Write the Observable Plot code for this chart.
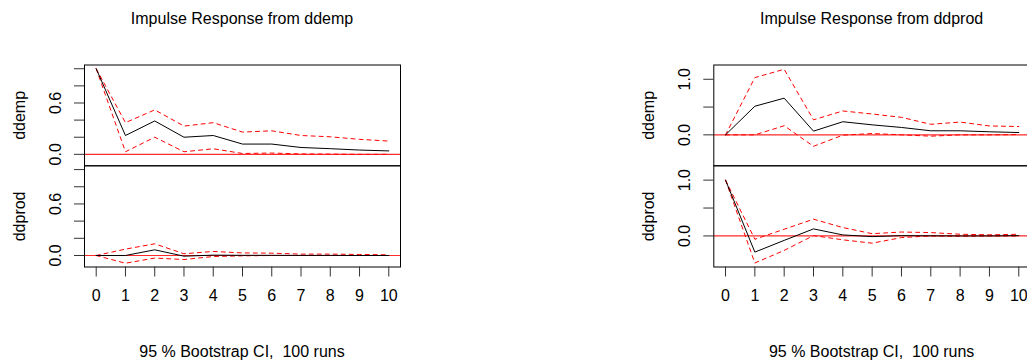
<!DOCTYPE html>
<html>
<head>
<meta charset="utf-8">
<script src="https://cdn.jsdelivr.net/npm/d3@7"></script>
<script src="https://cdn.jsdelivr.net/npm/@observablehq/plot@0.6"></script>
<style>
  html, body { margin: 0; padding: 0; background: #fff; }
  #chart { position: relative; width: 1027px; height: 362px; overflow: hidden; background: #fff;
           font-family: "Liberation Sans", Arial, sans-serif; }
  #chart svg { position: absolute; top: 0; }
  .ttl { position: absolute; width: 300px; text-align: center; font-size: 16px; line-height: 16px;
         font-family: "Liberation Sans", Arial, sans-serif; color: #000; white-space: pre; }
</style>
</head>
<body>
<div id="chart"></div>
<script>
// ---- data ----
const horizons = [0, 1, 2, 3, 4, 5, 6, 7, 8, 9, 10];
const xTickLabels = horizons;

const responseNames = ["ddemp", "ddprod"];
const shockTitles = ["Impulse Response from ddemp", "Impulse Response from ddprod"];
const captionText = "95 % Bootstrap CI,  100 runs";

// shock: ddemp
const irfDdempDdemp   = [1.0, 0.22, 0.39, 0.20, 0.22, 0.12, 0.12, 0.08, 0.066, 0.05, 0.04];
const upperDdempDdemp = [1.0, 0.37, 0.52, 0.33, 0.37, 0.26, 0.275, 0.22, 0.205, 0.175, 0.155];
const lowerDdempDdemp = [1.0, 0.03, 0.20, 0.03, 0.065, 0.01, 0.015, 0.005, 0.003, 0.0, 0.0];
const irfDdempDdprod   = [0.0, 0.0, 0.066, -0.008, 0.004, 0.002, 0.002, 0.001, 0.001, 0.0, 0.0];
const upperDdempDdprod = [0.0, 0.074, 0.136, 0.02, 0.047, 0.03, 0.027, 0.016, 0.016, 0.012, 0.008];
const lowerDdempDdprod = [0.0, -0.09, -0.03, -0.047, -0.012, -0.004, 0.0, 0.0, 0.0, 0.0, 0.0];

// shock: ddprod
const irfDdprodDdemp   = [0.0, 0.515, 0.66, 0.067, 0.236, 0.18, 0.133, 0.073, 0.073, 0.055, 0.042];
const upperDdprodDdemp = [0.0, 1.03, 1.18, 0.27, 0.43, 0.375, 0.315, 0.19, 0.23, 0.16, 0.15];
const lowerDdprodDdemp = [0.0, 0.0, 0.164, -0.206, -0.006, 0.024, 0.0, -0.024, 0.0, 0.0, 0.005];
const irfDdprodDdprod   = [1.0, -0.29, -0.08, 0.126, 0.018, -0.012, 0.005, 0.002, 0.0, 0.0, 0.005];
const upperDdprodDdprod = [1.0, -0.06, 0.12, 0.30, 0.15, 0.04, 0.07, 0.06, 0.03, 0.02, 0.03];
const lowerDdprodDdprod = [1.0, -0.485, -0.26, 0.006, -0.07, -0.13, -0.03, 0.0, -0.006, 0.0, 0.0];

// axis ticks
const leftYTicks = [0, 0.2, 0.4, 0.6, 0.8, 1.0];
const leftYLabels = [0, 0.6];
const rightYTicks = [0, 0.5, 1.0];
const rightYLabels = [0, 1.0];

// ---- layout ----
const chart = document.getElementById("chart");
const FONT = "\"Liberation Sans\", Arial, sans-serif";
const columns = [
  {svgLeft: 0,   width: 402, marginLeft: 84,  marginRight: 2, yDomain: [-0.134, 1.044], yTicks: leftYTicks, yLabels: leftYLabels,
   series: [[irfDdempDdemp, upperDdempDdemp, lowerDdempDdemp], [irfDdempDdprod, upperDdempDdprod, lowerDdempDdprod]]},
  {svgLeft: 620, width: 412, marginLeft: 93.3, marginRight: 2, yDomain: [-0.557, 1.257], yTicks: rightYTicks, yLabels: rightYLabels,
   series: [[irfDdprodDdemp, upperDdprodDdemp, lowerDdprodDdemp], [irfDdprodDdprod, upperDdprodDdprod, lowerDdprodDdprod]]}
];
const rows = [
  {marginTop: 64.5, height: 170, marginBottom: 4.7, showX: false},
  {marginTop: 165.3, height: 362, marginBottom: 95.5, showX: true}
];

columns.forEach((col, ci) => {
  rows.forEach((row, ri) => {
    const [irf, up, lo] = col.series[ri];
    const rowsData = horizons.map((h, i) => ({h, irf: irf[i], up: up[i], lo: lo[i]}));
    const marks = [
      Plot.ruleY([0], {stroke: "#ff2a2a", strokeWidth: 1.2}),
      Plot.lineY(rowsData, {x: "h", y: "up", stroke: "red", strokeDasharray: "4,4", strokeWidth: 1}),
      Plot.lineY(rowsData, {x: "h", y: "lo", stroke: "red", strokeDasharray: "4,4", strokeWidth: 1}),
      Plot.lineY(rowsData, {x: "h", y: "irf", stroke: "black", strokeWidth: 1}),
      Plot.frame({stroke: "black"}),
      Plot.axisY({ticks: col.yTicks, tickSize: 10, tickFormat: () => "", stroke: "#333", label: null}),
      Plot.text(col.yLabels, {y: d => d, text: d => d.toFixed(1), frameAnchor: "left", textAnchor: "middle", lineAnchor: "middle",
                              dx: -29, rotate: -90, fontSize: 16, fill: "black"}),
      Plot.text([responseNames[ri]], {frameAnchor: "left", textAnchor: "middle", lineAnchor: "middle",
                                      dx: -65, rotate: -90, fontSize: 16, fill: "black"})
    ];
    if (row.showX) {
      marks.push(Plot.axisX({ticks: xTickLabels, tickSize: 10, tickPadding: 13, fontSize: 16, stroke: "#333", fill: "black", label: null}));
    }
    const svg = Plot.plot({
      width: col.width,
      height: row.height,
      marginLeft: col.marginLeft,
      marginRight: col.marginRight,
      marginTop: row.marginTop,
      marginBottom: row.marginBottom,
      x: {domain: [-0.4, 10.4], axis: null, label: null},
      y: {domain: col.yDomain, axis: null, label: null},
      style: {fontFamily: FONT, fontSize: "16px", background: "transparent", overflow: "visible", color: "black"},
      marks
    });
    svg.style.left = col.svgLeft + "px";
    chart.appendChild(svg);
  });
  const center = col.svgLeft + col.marginLeft + (col.width - col.marginLeft - col.marginRight) / 2;
  const t = document.createElement("div");
  t.className = "ttl";
  t.textContent = shockTitles[ci];
  t.style.left = (center - 150) + "px";
  t.style.top = "10.5px";
  chart.appendChild(t);
  const c = document.createElement("div");
  c.className = "ttl";
  c.textContent = captionText;
  c.style.left = (center - 150) + "px";
  c.style.top = "343.5px";
  chart.appendChild(c);
});
</script>
</body>
</html>
